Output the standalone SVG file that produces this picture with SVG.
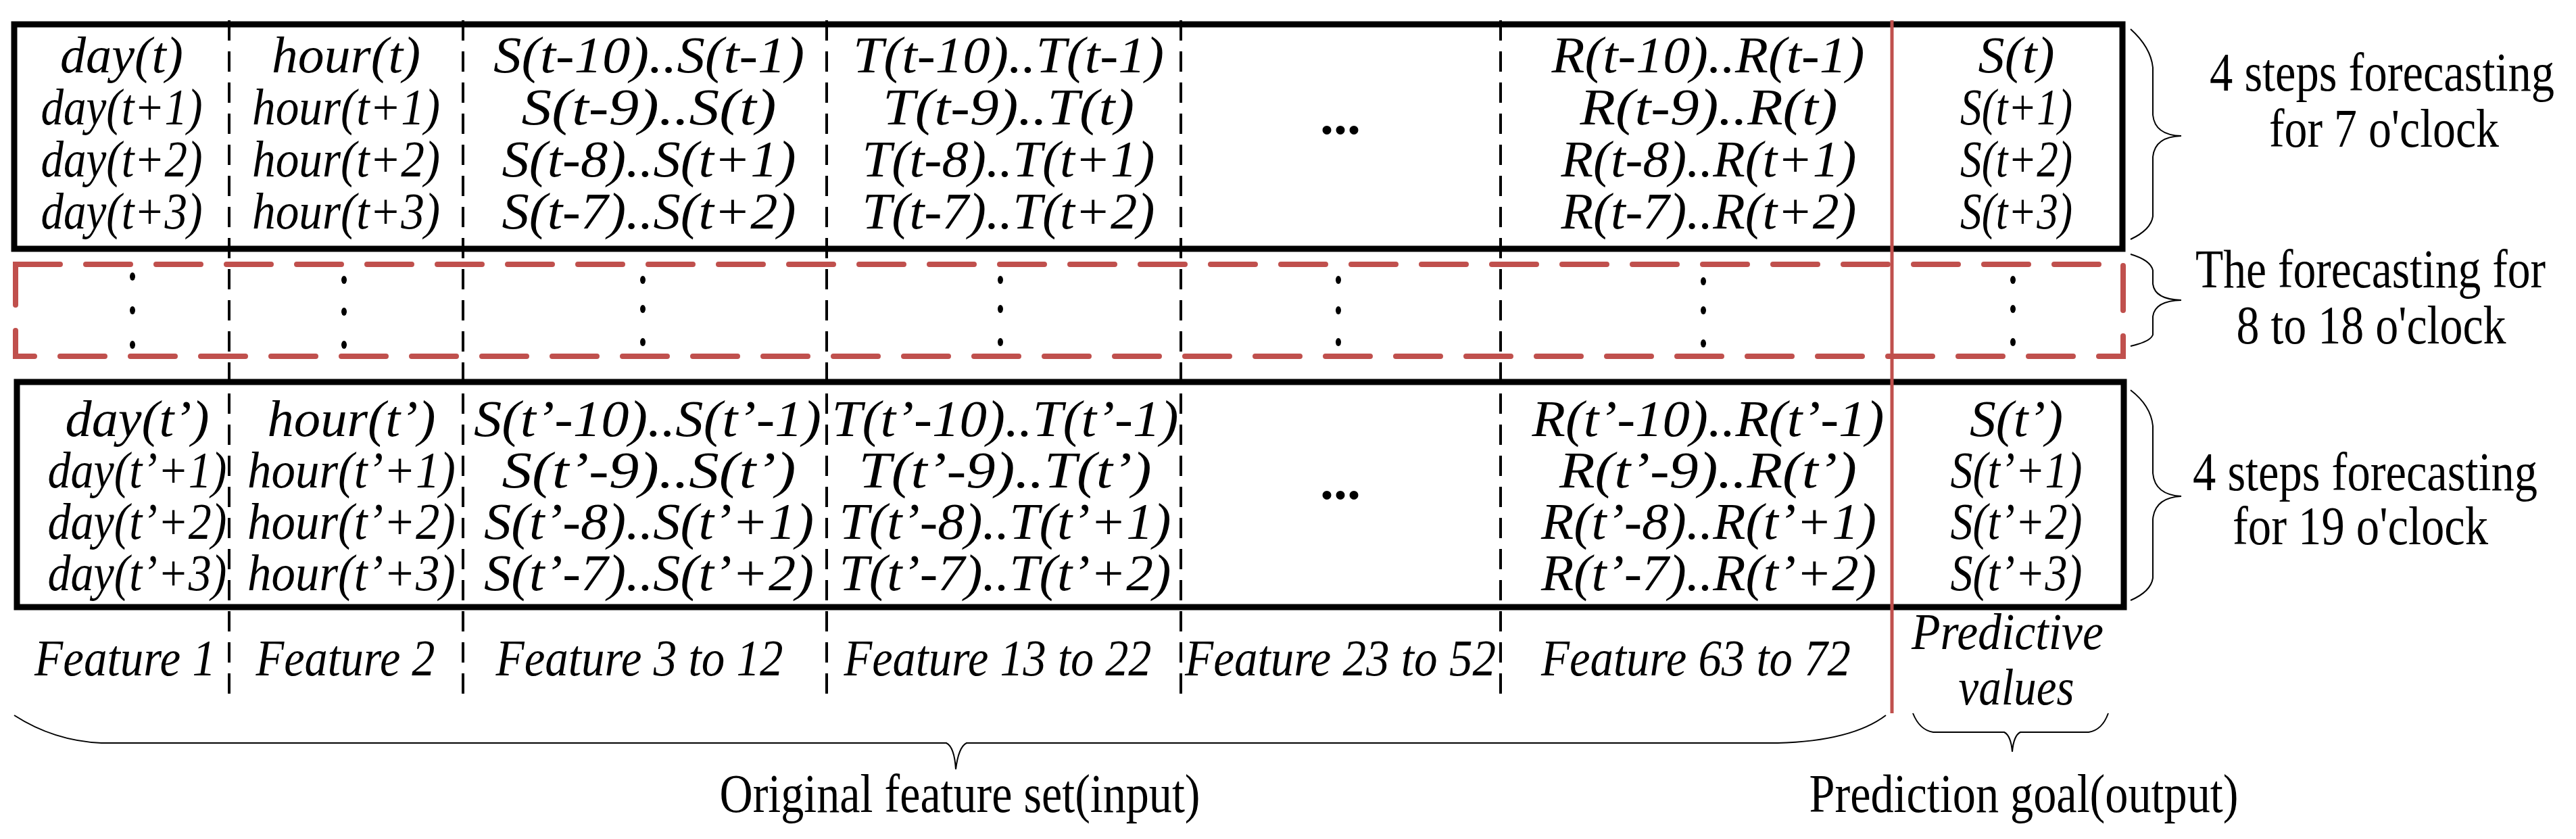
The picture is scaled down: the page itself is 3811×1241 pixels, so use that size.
<svg xmlns="http://www.w3.org/2000/svg" width="3811" height="1241" viewBox="0 0 3811 1241">
<style>
.c{font-family:"Liberation Serif",serif;font-style:italic;font-size:76px;text-anchor:middle;fill:#000}
.n{font-family:"Liberation Serif",serif;font-size:80px;text-anchor:middle;fill:#000}
.box{fill:none;stroke:#000;stroke-width:9}
.col{stroke:#000;stroke-width:4;stroke-dasharray:30 16;fill:none}
.red{fill:none;stroke:#c0504d;stroke-width:8;stroke-dasharray:66 38;stroke-linecap:round}
.br{fill:none;stroke:#000;stroke-width:2}
</style>
<rect width="3811" height="1241" fill="#fff"/>
<g id="connectors">
<line class="col" x1="339" y1="30" x2="339" y2="1040"/>
<line class="col" x1="685" y1="30" x2="685" y2="1040"/>
<line class="col" x1="1223" y1="30" x2="1223" y2="1040"/>
<line class="col" x1="1747" y1="30" x2="1747" y2="1040"/>
<line class="col" x1="2220" y1="30" x2="2220" y2="1040"/>
<path class="br" d="M3152 43 Q3182 70 3185 100 L3185 170 Q3188 200 3227 201 Q3188 202 3185 232 L3185 320 Q3182 340 3152 354"/>
<path class="br" d="M3152 376 Q3182 385 3185 400 L3185 420 Q3188 443 3227 444 Q3188 445 3185 468 L3185 495 Q3182 505 3152 512"/>
<path class="br" d="M3152 577 Q3182 600 3185 630 L3185 700 Q3188 732 3227 734 Q3188 736 3185 768 L3185 855 Q3182 875 3152 888"/>
<path class="br" d="M21 1058 Q80 1096 150 1099 L1400 1099 Q1412 1105 1414 1138 Q1418 1105 1430 1099 L2630 1099 Q2740 1096 2790 1058"/>
<path class="br" d="M2830 1055 Q2840 1080 2860 1083 L2965 1083 Q2975 1088 2977 1112 Q2979 1088 2989 1083 L3090 1083 Q3110 1080 3119 1055"/>
</g>
<g id="top-block">
<rect class="box" x="21" y="36" width="3119" height="332"/>
<text class="c" x="180" y="107" textLength="182" lengthAdjust="spacingAndGlyphs">day(t)</text>
<text class="c" x="180" y="184" textLength="239" lengthAdjust="spacingAndGlyphs">day(t+1)</text>
<text class="c" x="180" y="261" textLength="239" lengthAdjust="spacingAndGlyphs">day(t+2)</text>
<text class="c" x="180" y="338" textLength="239" lengthAdjust="spacingAndGlyphs">day(t+3)</text>
<text class="c" x="512" y="107" textLength="220" lengthAdjust="spacingAndGlyphs">hour(t)</text>
<text class="c" x="512" y="184" textLength="278" lengthAdjust="spacingAndGlyphs">hour(t+1)</text>
<text class="c" x="512" y="261" textLength="278" lengthAdjust="spacingAndGlyphs">hour(t+2)</text>
<text class="c" x="512" y="338" textLength="278" lengthAdjust="spacingAndGlyphs">hour(t+3)</text>
<text class="c" x="960" y="107" textLength="460" lengthAdjust="spacingAndGlyphs">S(t-10)..S(t-1)</text>
<text class="c" x="960" y="184" textLength="377" lengthAdjust="spacingAndGlyphs">S(t-9)..S(t)</text>
<text class="c" x="960" y="261" textLength="435" lengthAdjust="spacingAndGlyphs">S(t-8)..S(t+1)</text>
<text class="c" x="960" y="338" textLength="435" lengthAdjust="spacingAndGlyphs">S(t-7)..S(t+2)</text>
<text class="c" x="1492" y="107" textLength="460" lengthAdjust="spacingAndGlyphs">T(t-10)..T(t-1)</text>
<text class="c" x="1492" y="184" textLength="372" lengthAdjust="spacingAndGlyphs">T(t-9)..T(t)</text>
<text class="c" x="1492" y="261" textLength="433" lengthAdjust="spacingAndGlyphs">T(t-8)..T(t+1)</text>
<text class="c" x="1492" y="338" textLength="433" lengthAdjust="spacingAndGlyphs">T(t-7)..T(t+2)</text>
<text class="n" x="1983" y="198" font-weight="bold">...</text>
<text class="c" x="2527" y="107" textLength="463" lengthAdjust="spacingAndGlyphs">R(t-10)..R(t-1)</text>
<text class="c" x="2528" y="184" textLength="381" lengthAdjust="spacingAndGlyphs">R(t-9)..R(t)</text>
<text class="c" x="2528" y="261" textLength="437" lengthAdjust="spacingAndGlyphs">R(t-8)..R(t+1)</text>
<text class="c" x="2528" y="338" textLength="437" lengthAdjust="spacingAndGlyphs">R(t-7)..R(t+2)</text>
<text class="c" x="2983" y="107" textLength="113" lengthAdjust="spacingAndGlyphs">S(t)</text>
<text class="c" x="2983" y="184" textLength="166" lengthAdjust="spacingAndGlyphs">S(t+1)</text>
<text class="c" x="2983" y="261" textLength="166" lengthAdjust="spacingAndGlyphs">S(t+2)</text>
<text class="c" x="2983" y="338" textLength="166" lengthAdjust="spacingAndGlyphs">S(t+3)</text>
</g>
<g id="middle-block">
<rect class="red" x="23" y="391" width="3118" height="136"/>
<g fill="#000">
<ellipse cx="196" cy="409" rx="4" ry="6"/><ellipse cx="196" cy="459" rx="4" ry="6"/><ellipse cx="196" cy="510" rx="4" ry="6"/>
<ellipse cx="509" cy="414" rx="4" ry="6"/><ellipse cx="509" cy="461" rx="4" ry="6"/><ellipse cx="509" cy="510" rx="4" ry="6"/>
<ellipse cx="951" cy="414" rx="4" ry="6"/><ellipse cx="951" cy="457" rx="4" ry="6"/><ellipse cx="951" cy="506" rx="4" ry="6"/>
<ellipse cx="1480" cy="414" rx="4" ry="6"/><ellipse cx="1480" cy="457" rx="4" ry="6"/><ellipse cx="1480" cy="506" rx="4" ry="6"/>
<ellipse cx="1980" cy="414" rx="4" ry="6"/><ellipse cx="1980" cy="459" rx="4" ry="6"/><ellipse cx="1980" cy="506" rx="4" ry="6"/>
<ellipse cx="2520" cy="416" rx="4" ry="6"/><ellipse cx="2520" cy="459" rx="4" ry="6"/><ellipse cx="2520" cy="508" rx="4" ry="6"/>
<ellipse cx="2978" cy="414" rx="4" ry="6"/><ellipse cx="2978" cy="457" rx="4" ry="6"/><ellipse cx="2978" cy="506" rx="4" ry="6"/>
</g>
</g>
<g id="bottom-block">
<rect class="box" x="25" y="565" width="3117" height="333"/>
<text class="c" x="203" y="645" textLength="213" lengthAdjust="spacingAndGlyphs">day(t’)</text>
<text class="c" x="203" y="721" textLength="265" lengthAdjust="spacingAndGlyphs">day(t’+1)</text>
<text class="c" x="203" y="797" textLength="265" lengthAdjust="spacingAndGlyphs">day(t’+2)</text>
<text class="c" x="203" y="873" textLength="265" lengthAdjust="spacingAndGlyphs">day(t’+3)</text>
<text class="c" x="520" y="645" textLength="249" lengthAdjust="spacingAndGlyphs">hour(t’)</text>
<text class="c" x="520" y="721" textLength="308" lengthAdjust="spacingAndGlyphs">hour(t’+1)</text>
<text class="c" x="520" y="797" textLength="308" lengthAdjust="spacingAndGlyphs">hour(t’+2)</text>
<text class="c" x="520" y="873" textLength="308" lengthAdjust="spacingAndGlyphs">hour(t’+3)</text>
<text class="c" x="958" y="645" textLength="514" lengthAdjust="spacingAndGlyphs">S(t’-10)..S(t’-1)</text>
<text class="c" x="960" y="721" textLength="435" lengthAdjust="spacingAndGlyphs">S(t’-9)..S(t’)</text>
<text class="c" x="960" y="797" textLength="488" lengthAdjust="spacingAndGlyphs">S(t’-8)..S(t’+1)</text>
<text class="c" x="960" y="873" textLength="488" lengthAdjust="spacingAndGlyphs">S(t’-7)..S(t’+2)</text>
<text class="c" x="1487" y="645" textLength="513" lengthAdjust="spacingAndGlyphs">T(t’-10)..T(t’-1)</text>
<text class="c" x="1487" y="721" textLength="433" lengthAdjust="spacingAndGlyphs">T(t’-9)..T(t’)</text>
<text class="c" x="1487" y="797" textLength="491" lengthAdjust="spacingAndGlyphs">T(t’-8)..T(t’+1)</text>
<text class="c" x="1487" y="873" textLength="491" lengthAdjust="spacingAndGlyphs">T(t’-7)..T(t’+2)</text>
<text class="n" x="1983" y="738" font-weight="bold">...</text>
<text class="c" x="2527" y="645" textLength="521" lengthAdjust="spacingAndGlyphs">R(t’-10)..R(t’-1)</text>
<text class="c" x="2527" y="721" textLength="440" lengthAdjust="spacingAndGlyphs">R(t’-9)..R(t’)</text>
<text class="c" x="2528" y="797" textLength="496" lengthAdjust="spacingAndGlyphs">R(t’-8)..R(t’+1)</text>
<text class="c" x="2528" y="873" textLength="496" lengthAdjust="spacingAndGlyphs">R(t’-7)..R(t’+2)</text>
<text class="c" x="2983" y="645" textLength="138" lengthAdjust="spacingAndGlyphs">S(t’)</text>
<text class="c" x="2983" y="721" textLength="195" lengthAdjust="spacingAndGlyphs">S(t’+1)</text>
<text class="c" x="2983" y="797" textLength="195" lengthAdjust="spacingAndGlyphs">S(t’+2)</text>
<text class="c" x="2983" y="873" textLength="195" lengthAdjust="spacingAndGlyphs">S(t’+3)</text>
</g>
<g id="red-divider"><line x1="2799" y1="30" x2="2799" y2="1055" stroke="#c0504d" stroke-width="5"/></g>
<g id="labels">
<text class="c" x="185" y="999" textLength="268" lengthAdjust="spacingAndGlyphs">Feature 1</text>
<text class="c" x="511" y="999" textLength="265" lengthAdjust="spacingAndGlyphs">Feature 2</text>
<text class="c" x="946" y="999" textLength="425" lengthAdjust="spacingAndGlyphs">Feature 3 to 12</text>
<text class="c" x="1476" y="999" textLength="455" lengthAdjust="spacingAndGlyphs">Feature 13 to 22</text>
<text class="c" x="1983" y="999" textLength="460" lengthAdjust="spacingAndGlyphs">Feature 23 to 52</text>
<text class="c" x="2509" y="999" textLength="458" lengthAdjust="spacingAndGlyphs">Feature 63 to 72</text>
<text class="c" x="2970" y="960" textLength="284" lengthAdjust="spacingAndGlyphs">Predictive</text>
<text class="c" x="2983" y="1042" textLength="171" lengthAdjust="spacingAndGlyphs">values</text>
<text class="n" x="1420" y="1201" textLength="711" lengthAdjust="spacingAndGlyphs">Original feature set(input)</text>
<text class="n" x="2994" y="1201" textLength="635" lengthAdjust="spacingAndGlyphs">Prediction goal(output)</text>
<text class="n" x="3524" y="134" textLength="510" lengthAdjust="spacingAndGlyphs">4 steps forecasting</text>
<text class="n" x="3527" y="217" textLength="340" lengthAdjust="spacingAndGlyphs">for 7 o'clock</text>
<text class="n" x="3507" y="425" textLength="518" lengthAdjust="spacingAndGlyphs">The forecasting for</text>
<text class="n" x="3508" y="508" textLength="399" lengthAdjust="spacingAndGlyphs">8 to 18 o'clock</text>
<text class="n" x="3499" y="725" textLength="510" lengthAdjust="spacingAndGlyphs">4 steps forecasting</text>
<text class="n" x="3492" y="805" textLength="378" lengthAdjust="spacingAndGlyphs">for 19 o'clock</text>
</g>
</svg>
